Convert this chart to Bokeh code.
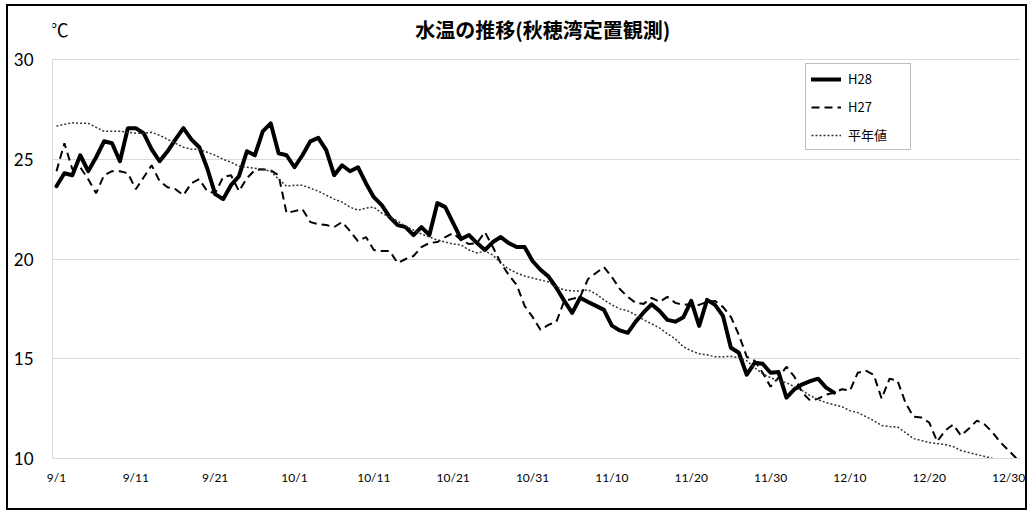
from bokeh.plotting import figure
from bokeh.models import FixedTicker, Label, Legend, LegendItem
from bokeh.embed import file_html
from bokeh.resources import INLINE

# ---- data -------------------------------------------------------------
tick_days = [0, 10, 20, 30, 40, 50, 60, 70, 80, 90, 100, 110, 120]
tick_labels = ["9/1", "9/11", "9/21", "10/1", "10/11", "10/21", "10/31",
               "11/10", "11/20", "11/30", "12/10", "12/20", "12/30"]

series_names = ["H28", "H27", "平年値"]
title_text = "水温の推移(秋穂湾定置観測)"
unit_text = "℃"

h28 = [23.65, 24.3, 24.2, 25.2, 24.4, 25.1, 25.9, 25.8, 24.9, 26.56,
       26.56, 26.3, 25.5, 24.9, 25.4, 26.0, 26.56, 26.0, 25.6, 24.55,
       23.25, 23.0, 23.7, 24.15, 25.4, 25.2, 26.4, 26.8, 25.3, 25.2,
       24.6, 25.2, 25.9, 26.07, 25.46, 24.2, 24.7, 24.4, 24.6, 23.8,
       23.1, 22.7, 22.1, 21.7, 21.6, 21.2, 21.6, 21.2, 22.8, 22.6,
       21.8, 21.0, 21.2, 20.8, 20.45, 20.85, 21.1, 20.8, 20.6, 20.6,
       19.9, 19.46, 19.13, 18.56, 17.9, 17.3, 18.06, 17.85, 17.65, 17.45,
       16.66, 16.42, 16.3, 16.86, 17.32, 17.73, 17.4, 16.95, 16.86, 17.08,
       17.9, 16.65, 17.95, 17.7, 17.15, 15.55, 15.3, 14.2, 14.8, 14.75,
       14.3, 14.33, 13.05, 13.47, 13.72, 13.88, 14.0, 13.55, 13.3]

h27 = [24.4, 25.8, 24.5, 24.6, 24.0, 23.3, 24.2, 24.4, 24.4, 24.3,
       23.5, 24.1, 24.7, 23.9, 23.6, 23.5, 23.2, 23.8, 24.0, 23.4,
       23.3, 24.1, 24.2, 23.4, 24.05, 24.45, 24.5, 24.45, 24.2, 22.3,
       22.4, 22.5, 21.85, 21.75, 21.7, 21.6, 21.85, 21.4, 20.9, 21.1,
       20.45, 20.4, 20.4, 19.8, 20.0, 20.15, 20.6, 20.8, 20.85, 21.1,
       21.3, 20.95, 20.75, 20.8, 21.35, 20.6, 19.8, 19.2, 18.7, 17.65,
       17.1, 16.45, 16.7, 16.85, 17.9, 18.0, 18.1, 19.0, 19.3, 19.6,
       19.1, 18.5, 18.1, 17.8, 17.75, 18.05, 17.85, 18.1, 17.8, 17.7,
       17.75, 17.7, 17.85, 17.9, 17.6, 17.1, 16.2, 15.1, 14.9, 14.3,
       13.6, 14.05, 14.6, 14.1, 13.3, 12.9, 13.0, 13.2, 13.3, 13.47,
       13.4, 14.3, 14.4, 14.2, 13.0, 14.0, 13.9, 12.8, 12.1, 12.05,
       11.8, 10.85, 11.4, 11.7, 11.15, 11.5, 11.9, 11.7, 11.3, 10.8,
       10.4, 10.0]

normal = [26.66, 26.75, 26.83, 26.8, 26.8, 26.6, 26.4, 26.4, 26.4, 26.35,
          26.3, 26.3, 26.35, 26.2, 26.0, 25.8, 25.6, 25.5, 25.5, 25.35,
          25.2, 25.0, 24.85, 24.65, 24.6, 24.55, 24.5, 24.4, 24.0, 23.65,
          23.7, 23.7, 23.55, 23.4, 23.2, 23.0, 22.85, 22.6, 22.45, 22.55,
          22.6, 22.3, 22.1, 21.9, 21.65, 21.45, 21.25, 21.1, 20.95, 20.85,
          20.75, 20.7, 20.45, 20.3, 20.4, 20.2, 19.8, 19.5, 19.3, 19.15,
          19.05, 18.95, 18.85, 18.6, 18.45, 18.4, 18.4, 18.45, 18.25, 17.95,
          17.7, 17.5, 17.4, 17.2, 16.95, 16.75, 16.55, 16.25, 16.0, 15.6,
          15.4, 15.25, 15.2, 15.1, 15.1, 15.12, 15.05, 14.9, 14.55, 14.25,
          14.05, 13.9, 13.8, 13.6, 13.4, 13.15, 12.95, 12.8, 12.7, 12.6,
          12.4, 12.3, 12.1, 11.9, 11.65, 11.6, 11.58, 11.3, 11.0, 10.9,
          10.8, 10.75, 10.7, 10.6, 10.4, 10.3, 10.2, 10.1, 10.0]

y_ticks = [10, 15, 20, 25, 30]

# ---- figure -----------------------------------------------------------
LAT = "Lato"
CJK = "Noto Sans CJK JP"
W, H = 1021, 506
Y_TOP = 32.657   # plot area reaches up to the title row

p = figure(width=W, height=H, output_backend="svg", toolbar_location=None,
           x_range=(-0.5, 121.5), y_range=(10, Y_TOP),
           min_border_left=44, min_border_right=9, min_border_top=0,
           min_border_bottom=54)
p.styles = {"border": "2px solid black", "box-sizing": "border-box",
            "margin-left": "6px", "margin-top": "4px"}
p.outline_line_color = None
p.background_fill_color = "white"
p.border_fill_color = "white"

# axes
p.xaxis.ticker = FixedTicker(ticks=tick_days)
p.xaxis.major_label_overrides = {d: s for d, s in zip(tick_days, tick_labels)}
p.yaxis.ticker = FixedTicker(ticks=y_ticks)
p.yaxis.bounds = (10, 30)
for ax in (p.xaxis, p.yaxis):
    ax.axis_line_color = "#d9d9d9"
    ax.axis_line_width = 1
    ax.major_tick_line_color = None
    ax.minor_tick_line_color = None
    ax.major_tick_out = 0
    ax.major_tick_in = 0
    ax.minor_tick_out = 0
    ax.minor_tick_in = 0
    ax.major_label_text_font = LAT
    ax.major_label_text_color = "#000000"
p.xaxis.major_label_text_font_size = "12px"
p.xaxis.major_label_standoff = 11
p.yaxis.major_label_text_font_size = "17px"
p.yaxis.major_label_standoff = 19

p.xgrid.grid_line_color = None
p.ygrid.grid_line_color = "#d9d9d9"
p.ygrid.grid_line_width = 1

# lines
r28 = p.line(list(range(len(h28))), h28, line_color="black", line_width=4,
             line_join="round", line_cap="round")
r27 = p.line(list(range(len(h27))), h27, line_color="black", line_width=2,
             line_dash="8 5")
rn = p.line(list(range(len(normal))), normal, line_color="#333333",
            line_width=1.5, line_dash="2 2")

legend = Legend(items=[LegendItem(label=series_names[0], renderers=[r28]),
                       LegendItem(label=series_names[1], renderers=[r27]),
                       LegendItem(label=series_names[2], renderers=[rn])],
                location=(753, 308), orientation="vertical")
legend.border_line_color = "#7f7f7f"
legend.border_line_width = 1
legend.background_fill_alpha = 1
legend.label_text_font = CJK
legend.label_text_font_size = "13px"
legend.label_text_color = "#000000"
legend.glyph_width = 30
legend.glyph_height = 18
legend.label_height = 18
legend.label_width = 57
legend.label_standoff = 7
legend.spacing = 9
legend.padding = 5
legend.margin = 0
p.add_layout(legend)

title = Label(x=61.3, y=31.5, text=title_text, text_font=CJK,
              text_font_size="20px", text_font_style="bold",
              text_align="center", text_baseline="middle", text_color="#000000")
p.add_layout(title)

unit = Label(x=0.38, y=31.55, text=unit_text, text_font=CJK,
             text_font_size="18px", text_align="center",
             text_baseline="middle", text_color="#000000")
p.add_layout(unit)

open("out.html", "w").write(file_html(p, INLINE))
